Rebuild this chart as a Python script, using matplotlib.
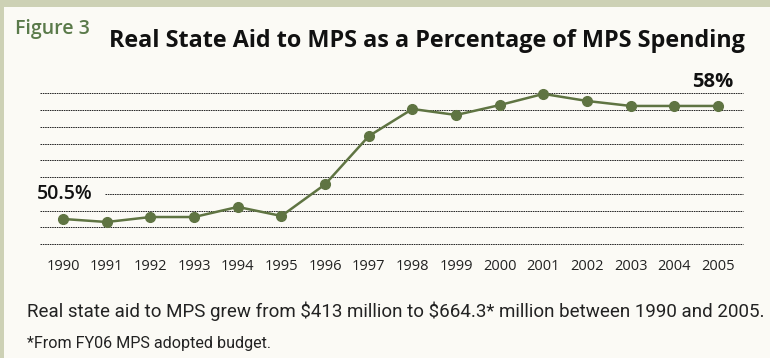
import matplotlib
matplotlib.use('Agg')

import numpy as np
import matplotlib.pyplot as plt
from matplotlib.patches import Rectangle

# Real state aid as a percentage of MPS spending
years = [1990, 1991, 1992, 1993, 1994, 1995, 1996, 1997,
         1998, 1999, 2000, 2001, 2002, 2003, 2004, 2005]
aid_pct = [50.5, 50.3, 50.63, 50.63, 51.3, 50.7, 52.8, 56.0,
           57.8, 57.4, 58.06, 58.8, 58.33, 58.0, 58.0, 58.0]
year_labels = [str(y) for y in years]
first_label = "50.5%"
last_label = "58%"

W, H = 770, 358
fig = plt.figure(figsize=(W / 100, H / 100), dpi=100)
fig.patch.set_facecolor("#cdd1b5")

# inner panel (border only on top and left)
fig.patches.append(Rectangle((4 / W, 0), 1, 1 - 7 / H, transform=fig.transFigure,
                             facecolor="#fbfaf5", edgecolor="none", zorder=-10))

green = "#5f7442"

# axes placed in pixels: gridlines run from y=93 to y=244, x=40 to 743
left, right, top, bottom = 40, 743, 93.3, 244
ax = fig.add_axes([left / W, 1 - bottom / H, (right - left) / W, (bottom - top) / H])
ax.set_zorder(5)
ax.set_facecolor("none")
ymin, ymax = 48.84, 58.84
ax.set_ylim(ymin, ymax)
ax.set_xlim(1989.47, 2005.57)

grid_vals = np.linspace(ymin, ymax, 10)
for i, g in enumerate(grid_vals):
    # the row next to the "50.5%" label starts after the label
    xmin = 65 / (right - left) if i == 3 else 0
    ax.axhline(g, xmin=xmin, xmax=1, color="#222222", lw=0.7,
               ls=(0, (1.6, 0.8)), zorder=1, clip_on=False)

ax.plot(years, aid_pct, color=green, lw=1.8, marker="o", ms=7,
        markerfacecolor=green, markeredgecolor=green, zorder=3, clip_on=False)

for s in ax.spines.values():
    s.set_visible(False)
ax.set_yticks([])
ax.set_xticks(years)
ax.set_xticklabels(year_labels, fontsize=10.5, family="Open Sans", color="#222222")
ax.tick_params(axis="x", length=0, pad=11)

fig.text(37 / W, 1 - 199 / H, first_label, fontsize=14, fontweight="semibold",
         family="Open Sans", color="#111111", ha="left", va="baseline")
fig.text(733 / W, 1 - 87 / H, last_label, fontsize=14.5, fontweight="bold",
         family="Open Sans", color="#111111", ha="right", va="baseline")

fig.text(15 / W, 1 - 34 / H, "Figure 3", fontsize=14, fontweight="semibold",
         family="Open Sans", color="#5a7a4a", ha="left", va="baseline")
fig.text(745 / W, 1 - 47 / H, "Real State Aid to MPS as a Percentage of MPS Spending",
         fontsize=16.8, fontweight="bold", family="Open Sans", color="#111111",
         ha="right", va="baseline")

fig.text(27 / W, 1 - 317 / H,
         r"Real state aid to MPS grew from \$413 million to \$664.3* million between 1990 and 2005.",
         fontsize=13.5, family="Roboto", color="#222222", ha="left", va="baseline")
fig.text(27 / W, 1 - 348 / H, "*From FY06 MPS adopted budget.",
         fontsize=11.6, family="Roboto", color="#222222", ha="left", va="baseline")

fig.savefig("out.png", dpi=100, facecolor=fig.get_facecolor())
